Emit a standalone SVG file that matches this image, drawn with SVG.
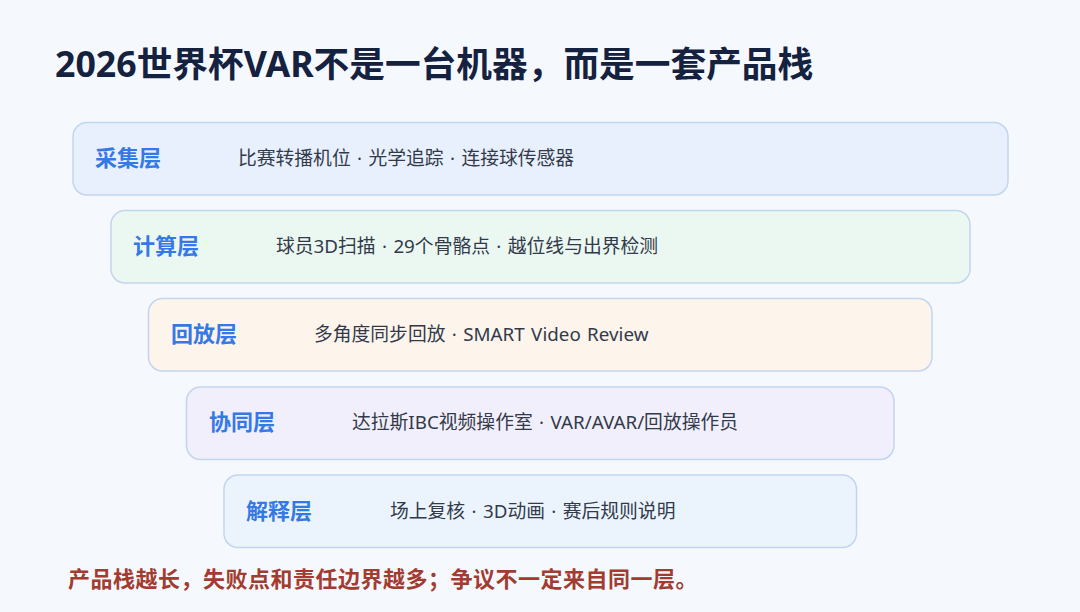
<svg xmlns="http://www.w3.org/2000/svg" width="1080" height="612" viewBox="0 0 1080 612">
<style>
.bg{fill:#f5f9fe}
.box{stroke:#c3d5ee;stroke-width:1.5}
.lbl{font-family:"Noto Sans","Noto Sans CJK SC",sans-serif;font-size:22px;font-weight:700;fill:#3479e6}
.desc{font-family:"Noto Sans","Noto Sans CJK SC",sans-serif;font-size:18.8px;word-spacing:1.5px;fill:#323a4a}
.title{font-family:"Noto Sans","Noto Sans CJK SC",sans-serif;font-size:35.7px;font-weight:700;fill:#14213f}
.foot{font-family:"Noto Sans","Noto Sans CJK SC",sans-serif;font-size:22px;letter-spacing:0.5px;font-weight:700;fill:#a23b30}
</style>
<rect class="bg" x="0" y="0" width="1080" height="612"/>
<text class="title" x="55" y="77">2026世界杯VAR不是一台机器，而是一套产品栈</text>
<g id="layer1">
<rect class="box" x="73" y="122.5" width="935" height="72.5" rx="14" fill="#e8f0fd"/>
<text class="lbl" x="95" y="166">采集层</text>
<text class="desc" x="238" y="165">比赛转播机位 · 光学追踪 · 连接球传感器</text>
</g>
<g id="layer2">
<rect class="box" x="111" y="210.5" width="859" height="72.5" rx="14" fill="#ebf8f1"/>
<text class="lbl" x="133" y="254">计算层</text>
<text class="desc" x="276" y="253">球员3D扫描 · 29个骨骼点 · 越位线与出界检测</text>
</g>
<g id="layer3">
<rect class="box" x="148.5" y="298.5" width="783.5" height="72.5" rx="14" fill="#fdf4ec"/>
<text class="lbl" x="171" y="342">回放层</text>
<text class="desc" x="314" y="341">多角度同步回放 · SMART Video Review</text>
</g>
<g id="layer4">
<rect class="box" x="186.5" y="387" width="707.5" height="72.5" rx="14" fill="#f2effc"/>
<text class="lbl" x="209" y="430">协同层</text>
<text class="desc" x="352" y="429">达拉斯IBC视频操作室 · VAR/AVAR/回放操作员</text>
</g>
<g id="layer5">
<rect class="box" x="224" y="475" width="632.5" height="72.5" rx="14" fill="#ebf4fd"/>
<text class="lbl" x="246" y="519">解释层</text>
<text class="desc" x="390" y="518">场上复核 · 3D动画 · 赛后规则说明</text>
</g>
<g id="connectors"/>
<text class="foot" x="68" y="587">产品栈越长，失败点和责任边界越多；争议不一定来自同一层。</text>
</svg>
